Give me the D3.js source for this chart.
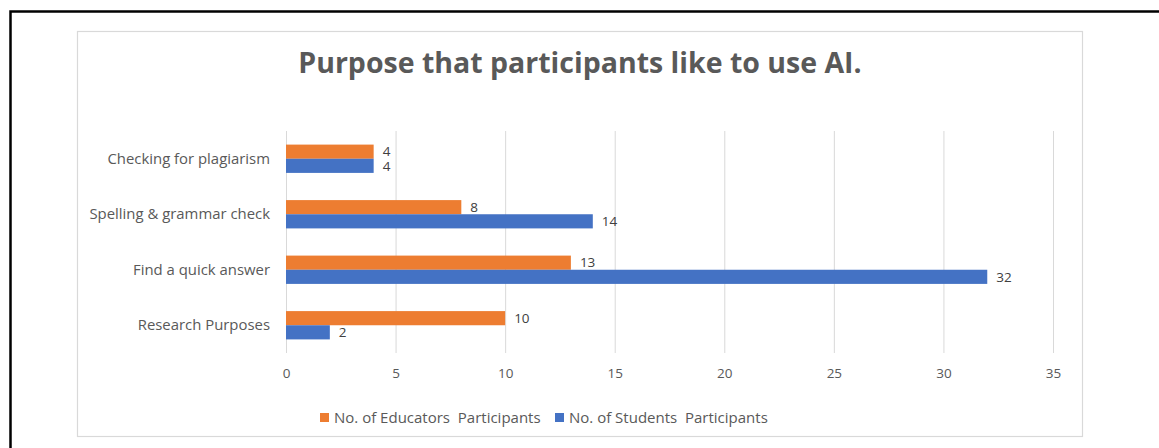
<!DOCTYPE html>
<html lang="en">
<head>
    <meta charset="UTF-8">
    <title>Purpose that participants like to use AI.</title>
    <style>
        body { margin: 0; background: #fff; }
        text { font-family: "Open Sans", sans-serif; }
        .tick text { font-size: 13.5px; fill: #595959; }
        .tick line { stroke: #d9d9d9; }
        .domain { display: none; }
    </style>
</head>
<body>
    <svg width="1159" height="448"></svg>

    <script src="https://cdnjs.cloudflare.com/ajax/libs/d3/7.8.5/d3.min.js"></script>

    <script>

        // Categories, top to bottom as drawn
        const categories = [
            'Checking for plagiarism',
            'Spelling & grammar check',
            'Find a quick answer',
            'Research Purposes'
        ];
        const educators = [4, 8, 13, 10];
        const students = [4, 14, 32, 2];
        const seriesNames = ['No. of Educators  Participants', 'No. of Students  Participants'];
        const xTickValues = [0, 5, 10, 15, 20, 25, 30, 35];

        const colors = ['#ED7D31', '#4472C4'];

        const svg = d3.select('svg');

        // outer black frame (right and bottom run off the picture)
        svg.append('rect')
            .attr('x', 10.5).attr('y', 11.5)
            .attr('width', 1160).attr('height', 450)
            .attr('fill', 'none')
            .attr('stroke', '#000')
            .attr('stroke-width', 2.5);

        // chart area
        svg.append('rect')
            .attr('x', 77.5).attr('y', 31.5)
            .attr('width', 1005).attr('height', 405)
            .attr('fill', '#fff')
            .attr('stroke', '#d9d9d9')
            .attr('stroke-width', 1.2);

        svg.append('text')
            .attr('x', 580)
            .attr('y', 73)
            .attr('text-anchor', 'middle')
            .style('font-size', '28.5px')
            .style('font-weight', 'bold')
            .style('fill', '#595959')
            .text('Purpose that participants like to use AI.');

        const plot = { left: 286, right: 1053, top: 131, bottom: 353 };

        const xScale = d3.scaleLinear()
            .domain([0, 35])
            .range([plot.left, plot.right]);

        const yScale = d3.scaleBand()
            .domain(categories)
            .range([plot.top, plot.bottom])
            .paddingInner(0.49)
            .paddingOuter(0.245);

        const seriesScale = d3.scaleBand()
            .domain([0, 1])
            .range([0, yScale.bandwidth()]);

        // gridlines + x tick labels
        const xAxis = d3.axisBottom(xScale)
            .tickValues(xTickValues)
            .tickSize(-(plot.bottom - plot.top))
            .tickPadding(15);

        svg.append('g')
            .attr('transform', 'translate(0,' + plot.bottom + ')')
            .call(xAxis);

        // category labels
        const yAxis = d3.axisLeft(yScale)
            .tickSize(0)
            .tickPadding(16);

        svg.append('g')
            .attr('transform', 'translate(' + plot.left + ',0)')
            .call(yAxis)
            .selectAll('.tick text')
            .style('font-size', '14.9px');

        const rows = categories.map(function (c, i) {
            return { category: c, values: [educators[i], students[i]] };
        });

        const groups = svg.append('g')
            .selectAll('g')
            .data(rows)
            .join('g')
            .attr('transform', function (d) {
                return 'translate(0,' + yScale(d.category) + ')';
            });

        groups.selectAll('rect')
            .data(function (d) { return d.values; })
            .join('rect')
            .attr('x', xScale(0))
            .attr('y', function (d, i) { return seriesScale(i); })
            .attr('width', function (d) { return xScale(d) - xScale(0); })
            .attr('height', seriesScale.bandwidth())
            .attr('fill', function (d, i) { return colors[i]; });

        groups.selectAll('text')
            .data(function (d) { return d.values; })
            .join('text')
            .attr('x', function (d) { return xScale(d) + 9; })
            .attr('y', function (d, i) { return seriesScale(i) + seriesScale.bandwidth() / 2; })
            .attr('dy', '0.35em')
            .style('font-size', '13.5px')
            .style('fill', '#404040')
            .text(function (d) { return d; });

        // legend
        const legendX = [320, 555];
        const legend = svg.append('g')
            .selectAll('g')
            .data(seriesNames)
            .join('g')
            .attr('transform', function (d, i) {
                return 'translate(' + legendX[i] + ',418)';
            });

        legend.append('rect')
            .attr('x', 0).attr('y', -5)
            .attr('width', 9).attr('height', 9)
            .attr('fill', function (d, i) { return colors[i]; });

        legend.append('text')
            .attr('x', 14)
            .attr('y', 0)
            .attr('dy', '0.35em')
            .style('font-size', '15px')
            .style('fill', '#595959')
            .style('white-space', 'pre')
            .text(function (d) { return d; });

    </script>
</body>
</html>
